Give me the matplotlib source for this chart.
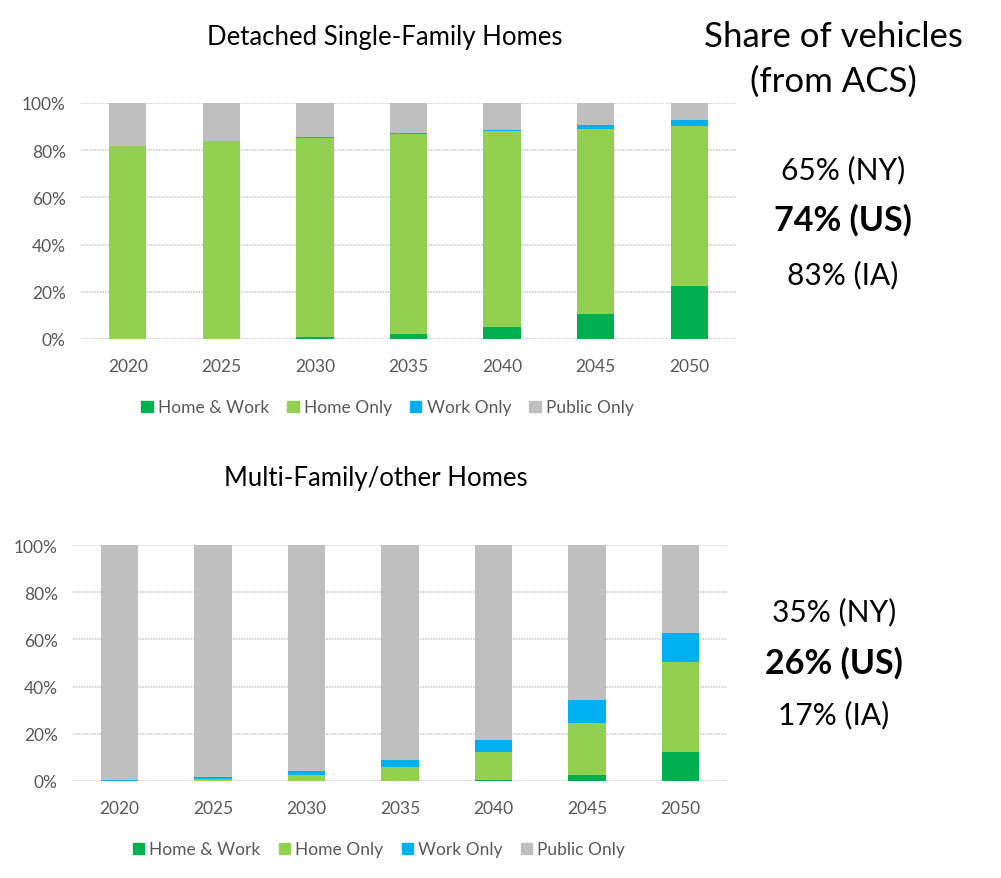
import numpy as np
import matplotlib
matplotlib.use("Agg")
import matplotlib.pyplot as plt
from matplotlib.patches import Patch

plt.rcParams["font.family"] = ["Lato", "DejaVu Sans"]

years = ["2020", "2025", "2030", "2035", "2040", "2045", "2050"]
series = ["Home & Work", "Home Only", "Work Only", "Public Only"]
colors = ["#00B050", "#92D050", "#00B0F0", "#BFBFBF"]

# Detached single-family homes (percent of vehicles)
sf_home_work = [0.0, 0.0, 0.8, 2.1, 5.1, 10.6, 22.5]
sf_home_only = [81.8, 84.0, 84.4, 84.8, 83.0, 78.4, 67.8]
sf_work_only = [0.0, 0.0, 0.5, 0.5, 0.5, 1.8, 2.5]

# Multi-family / other homes
mf_home_work = [0.0, 0.0, 0.0, 0.0, 0.6, 2.7, 12.4]
mf_home_only = [0.1, 0.8, 2.7, 6.1, 11.8, 22.0, 38.1]
mf_work_only = [0.4, 0.7, 1.7, 2.9, 5.1, 9.7, 12.3]

sf_shares = ["65% (NY)", "74% (US)", "83% (IA)"]
mf_shares = ["35% (NY)", "26% (US)", "17% (IA)"]


def stacked(ax, hw, ho, wo):
    hw, ho, wo = map(np.array, (hw, ho, wo))
    pub = 100 - hw - ho - wo
    x = np.arange(len(years))
    bottom = np.zeros(len(years))
    for vals, c in zip([hw, ho, wo, pub], colors):
        ax.bar(x, vals, 0.40, bottom=bottom, color=c, zorder=3)
        bottom += vals
    ax.set_xlim(-0.5, len(years) - 0.5)
    ax.set_ylim(0, 100)
    ax.set_xticks(x)
    ax.set_xticklabels(years)
    ax.set_yticks(range(0, 101, 20))
    ax.set_yticklabels([f"{v}%" for v in range(0, 101, 20)])
    ax.yaxis.grid(True, color="#D0D0D0", lw=1.2, ls=(0, (1, 0.6)), zorder=0)
    ax.tick_params(length=0, labelsize=12.5, colors="#595959")
    ax.tick_params(axis="x", pad=14)
    ax.tick_params(axis="y", pad=11)
    for s in ax.spines.values():
        s.set_visible(False)
    handles = [Patch(color=c, label=s) for c, s in zip(colors, series)]
    ax.legend(handles=handles, loc="upper center", bbox_to_anchor=(0.468, -0.19),
              ncol=4, frameon=False, fontsize=12.5, handlelength=0.65, handleheight=0.65,
              handletextpad=0.3, columnspacing=1.05, labelcolor="#595959")


fig = plt.figure(figsize=(10.01, 8.79), dpi=100)
ax1 = fig.add_axes([0.0809, 0.6132, 0.6544, 0.2685])
ax2 = fig.add_axes([0.0729, 0.1104, 0.6534, 0.2684])

stacked(ax1, sf_home_work, sf_home_only, sf_work_only)
stacked(ax2, mf_home_work, mf_home_only, mf_work_only)

fig.text(0.384, 1 - 37 / 879, "Detached Single-Family Homes", ha="center", va="center", fontsize=18.5)
fig.text(0.375, 1 - 479 / 879, "Multi-Family/other Homes", ha="center", va="center", fontsize=18.5)

fig.text(0.833, 1 - 37 / 879, "Share of vehicles", ha="center", va="center", fontsize=25)
fig.text(0.833, 1 - 82 / 879, "(from ACS)", ha="center", va="center", fontsize=25)

for txt, y in zip(sf_shares, [170, 220, 275]):
    bold = "US" in txt
    fig.text(0.842, 1 - y / 879, txt, ha="center", va="center",
             fontsize=24.5 if bold else 21.5, fontweight="bold" if bold else "normal")
for txt, y in zip(mf_shares, [612, 663, 715]):
    bold = "US" in txt
    fig.text(0.833, 1 - y / 879, txt, ha="center", va="center",
             fontsize=24.5 if bold else 21.5, fontweight="bold" if bold else "normal")

fig.savefig("out.png", dpi=100)
